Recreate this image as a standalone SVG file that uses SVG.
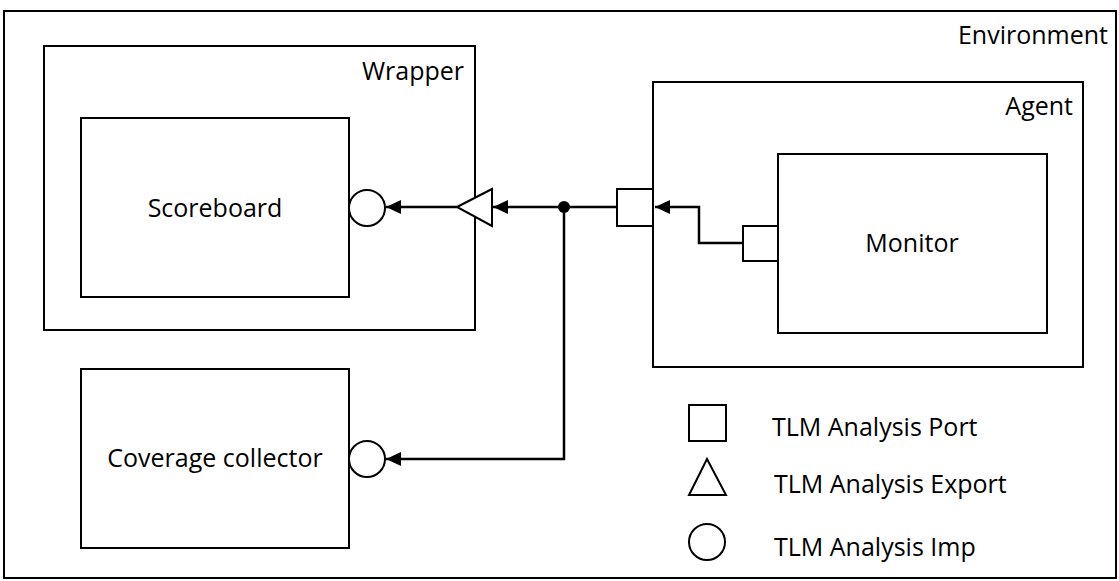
<svg xmlns="http://www.w3.org/2000/svg" width="1119" height="581" viewBox="0 0 1119 581">
<style>
.box{fill:#fff;stroke:#000;stroke-width:2}
.port{fill:#fff;stroke:#000;stroke-width:2}
.wire{fill:none;stroke:#000;stroke-width:2.5}
.lbl{font-family:"Open Sans","Liberation Sans",sans-serif;font-size:25px;fill:#000}
.end{text-anchor:end}
.mid{text-anchor:middle}
</style>
<defs>
<marker id="arr" markerUnits="userSpaceOnUse" markerWidth="16" markerHeight="14" refX="15" refY="7" orient="auto">
<path d="M0,0 L15,7 L0,14 z" fill="#000"/>
</marker>
</defs>
<rect width="1119" height="581" fill="#fff"/>
<g id="environment">
<rect class="box" x="4" y="11" width="1112" height="567"/>
<text class="lbl end" x="1108" y="44">Environment</text>
</g>
<g id="wrapper">
<rect class="box" x="44" y="46" width="431" height="284"/>
<text class="lbl end" x="464" y="80">Wrapper</text>
</g>
<g id="scoreboard">
<rect class="box" x="81" y="118" width="268" height="179"/>
<text class="lbl mid" x="215" y="217">Scoreboard</text>
<circle class="port" cx="367" cy="208" r="18"/>
</g>
<g id="agent">
<rect class="box" x="653" y="82" width="430" height="285"/>
<text class="lbl end" x="1073" y="115">Agent</text>
</g>
<g id="monitor">
<rect class="box" x="778" y="154" width="269" height="179"/>
<text class="lbl mid" x="912" y="252">Monitor</text>
<rect class="port" x="743" y="226" width="35" height="35"/>
</g>
<g id="coverage">
<rect class="box" x="81" y="369" width="268" height="179"/>
<text class="lbl mid" x="215" y="467">Coverage collector</text>
<circle class="port" cx="367" cy="459" r="18"/>
</g>
<g id="connectors">
<path class="wire" d="M743,243 H699 V207 H655" marker-end="url(#arr)"/>
<path class="wire" d="M617,207 H493" marker-end="url(#arr)"/>
<path class="wire" d="M457,207 H386" marker-end="url(#arr)"/>
<path class="wire" d="M564,207 V459 H386" marker-end="url(#arr)"/>
<circle cx="564" cy="207" r="6" fill="#000"/>
</g>
<g id="agent-port">
<rect class="port" x="617" y="189" width="36" height="37"/>
</g>
<g id="wrapper-export">
<path class="port" d="M457,207 L492,189 L492,226 z"/>
</g>
<g id="legend">
<rect class="port" x="689" y="405" width="37" height="36"/>
<text class="lbl" x="772" y="436">TLM Analysis Port</text>
<path class="port" d="M707,459 L726,495 L689,495 z"/>
<text class="lbl" x="774" y="493">TLM Analysis Export</text>
<circle class="port" cx="707" cy="542" r="18"/>
<text class="lbl" x="774" y="556">TLM Analysis Imp</text>
</g>
</svg>
